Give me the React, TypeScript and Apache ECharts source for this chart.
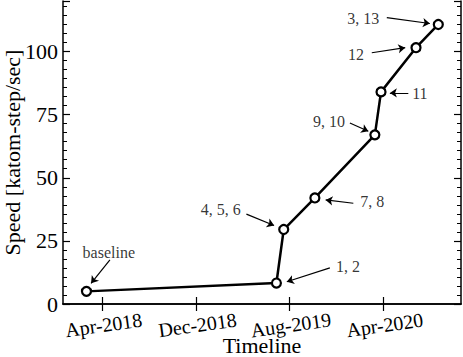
import React, { useEffect, useRef } from "react";
import * as echarts from "echarts";

// main series
const pointDates = ["2018-02-19", "2019-06-28", "2019-07-17", "2019-10-06", "2020-03-10", "2020-03-26", "2020-06-25", "2020-08-22"];
const speeds = [5, 8.3, 29.5, 42, 67, 84, 101.5, 110.7];

// axes
const xMinDate = "2017-12-20";
const xMaxDate = "2020-10-20";
const xTickDates = ["2018-04-01", "2018-12-01", "2019-08-01", "2020-04-01"];
const xTickLabels = ["Apr-2018", "Dec-2018", "Aug-2019", "Apr-2020"];
const yMin = 0;
const yMax = 120;
const yInterval = 25;

// annotations
const noteTexts = ["baseline", "1, 2", "4, 5, 6", "7, 8", "9, 10", "11", "12", "3, 13"];
const noteTextDates = ["2018-04-18", "2019-12-31", "2019-02-03", "2020-03-03", "2019-11-12", "2020-07-05", "2020-01-21", "2020-02-09"];
const noteTextValues = [20.4, 14.8, 37.3, 40.6, 72.2, 83.2, 98.8, 113.1];
const arrowFromDates = ["2018-04-21", "2019-11-14", "2019-04-11", "2020-01-14", "2020-01-05", "2020-06-05", "2020-03-02", "2020-04-10"];
const arrowFromValues = [17.5, 14.3, 35.6, 39.9, 71.7, 83.6, 99.5, 113.4];
const arrowToDates = ["2018-03-03", "2019-07-25", "2019-06-22", "2019-11-03", "2020-02-22", "2020-04-18", "2020-05-28", "2020-07-31"];
const arrowToValues = [8.2, 8.8, 31.1, 41.2, 68.4, 83.6, 101.5, 111.1];

const t = (s: string) => new Date(s + "T00:00:00Z").getTime();
const FONT = "Liberation Serif";

export default function App() {
  const ref = useRef<HTMLDivElement>(null);
  useEffect(() => {
    if (!ref.current) return;
    const chart = echarts.init(ref.current, null, { renderer: "svg" });
    const tickTimes = xTickDates.map(t);
    const labelFor = (v: number) => {
      let best = 0;
      tickTimes.forEach((tt, i) => {
        if (Math.abs(tt - v) < Math.abs(tickTimes[best] - v)) best = i;
      });
      return xTickLabels[best];
    };
    const axisLine = { show: true, lineStyle: { color: "#000", width: 1.5 } };
    const xCommon: any = {
      type: "value",
      min: t(xMinDate),
      max: t(xMaxDate),
      axisLine,
      splitLine: { show: false },
      axisTick: { show: true, inside: true, length: 7, customValues: tickTimes, lineStyle: { color: "#000", width: 1.2 } },
    };
    const yCommon: any = {
      type: "value",
      min: yMin,
      max: yMax,
      interval: yInterval,
      axisLine,
      splitLine: { show: false },
      axisTick: { show: true, inside: true, length: 7, lineStyle: { color: "#000", width: 1.2 } },
      minorTick: { show: true, splitNumber: 7, length: 4, lineStyle: { color: "#000", width: 1 } },
      minorSplitLine: { show: false },
    };
    chart.setOption({
      animation: false,
      textStyle: { fontFamily: FONT, color: "#000" },
      grid: { left: 63, right: 2, top: 1, bottom: 53, containLabel: false, outerBoundsMode: "none" },
      xAxis: [
        {
          ...xCommon,
          position: "bottom",
          name: "Timeline",
          nameLocation: "middle",
          nameGap: 30,
          nameMoveOverlap: false,
          nameTextStyle: { fontFamily: FONT, fontSize: 22, color: "#000", verticalAlign: "top" },
          axisLabel: {
            show: true,
            customValues: tickTimes,
            formatter: (v: number) => labelFor(v),
            rotate: 8,
            align: "center",
            verticalAlign: "top",
            margin: 11,
            fontFamily: FONT,
            fontSize: 20,
            color: "#000",
          },
        },
        { ...xCommon, position: "top", axisLabel: { show: false } },
      ],
      yAxis: [
        {
          ...yCommon,
          position: "left",
          name: "Speed [katom-step/sec]",
          nameLocation: "middle",
          nameGap: 40,
          nameMoveOverlap: false,
          nameTextStyle: { fontFamily: FONT, fontSize: 22, color: "#000" },
          axisLabel: { show: true, showMaxLabel: false, margin: 5, fontFamily: FONT, fontSize: 22, color: "#000" },
        },
        { ...yCommon, position: "right", axisLabel: { show: false } },
      ],
      series: [
        {
          type: "lines",
          coordinateSystem: "cartesian2d",
          xAxisIndex: 0,
          yAxisIndex: 0,
          symbol: ["none", "arrow"],
          symbolSize: 7,
          lineStyle: { color: "#000", width: 1.2, opacity: 1 },
          silent: true,
          z: 3,
          data: noteTexts.map((_, i) => ({
            coords: [
              [t(arrowFromDates[i]), arrowFromValues[i]],
              [t(arrowToDates[i]), arrowToValues[i]],
            ],
          })),
        },
        {
          type: "scatter",
          xAxisIndex: 0,
          yAxisIndex: 0,
          symbolSize: 1,
          itemStyle: { color: "transparent" },
          silent: true,
          z: 4,
          label: {
            show: true,
            position: "inside",
            formatter: "{b}",
            fontFamily: FONT,
            fontSize: 16,
            color: "#000",
            textBorderWidth: 0,
          },
          data: noteTexts.map((n, i) => ({ name: n, value: [t(noteTextDates[i]), noteTextValues[i]] })),
        },
        {
          type: "line",
          xAxisIndex: 0,
          yAxisIndex: 0,
          data: pointDates.map((d, i) => [t(d), speeds[i]]),
          symbol: "circle",
          symbolSize: 9,
          showAllSymbol: true,
          lineStyle: { color: "#000", width: 2.5 },
          itemStyle: { color: "#fff", borderColor: "#000", borderWidth: 2.2 },
          z: 5,
        },
      ],
    });
    return () => chart.dispose();
  }, []);
  return <div ref={ref} style={{ position: "fixed", left: 0, top: 0, width: 463, height: 357, background: "#fff" }} />;
}
